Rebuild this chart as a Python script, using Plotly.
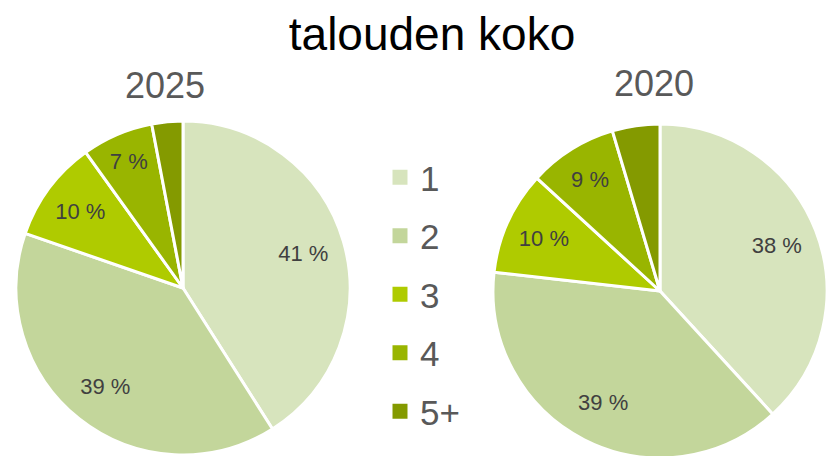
import plotly.graph_objects as go

categories = ["1", "2", "3", "4", "5+"]
values_2025 = [41.0, 39.3, 9.8, 6.9, 3.0]
values_2020 = [38.2, 38.6, 10.0, 8.6, 4.6]
years = ["2025", "2020"]
colors = ["#D7E4BD", "#C3D69B", "#AFCB00", "#99B500", "#849A00"]
title_text = "talouden koko"

FONT = "Liberation Sans, Arial, sans-serif"
W, H = 837, 456
OFF = 8  # page body margin


def slice_text(vals):
    return ["" if categories[i] == "5+" else f"{round(v)} %" for i, v in enumerate(vals)]


def px_domain(x0, x1, y0, y1):
    # page pixel box -> paper domain
    return dict(x=[(x0 - OFF) / W, (x1 - OFF) / W],
                y=[(H - (y1 - OFF)) / H, (H - (y0 - OFF)) / H])


fig = go.Figure()

domains = [px_domain(16, 350, 121, 455), px_domain(493, 827, 124, 458)]

for vals, dom in zip([values_2025, values_2020], domains):
    fig.add_trace(go.Pie(
        labels=categories, values=vals,
        textinfo="none",
        marker=dict(colors=colors, line=dict(color="white", width=3)),
        sort=False, direction="clockwise", rotation=0,
        domain=dom, showlegend=False, hoverinfo="label+percent",
    ))
    # text layer (ring) to position labels at ~3/4 radius
    fig.add_trace(go.Pie(
        labels=categories, values=vals, hole=0.5,
        text=slice_text(vals), textinfo="text", textposition="inside",
        insidetextorientation="horizontal",
        textfont=dict(family=FONT, size=22, color="#404040"),
        marker=dict(colors=["rgba(0,0,0,0)"] * len(vals), line=dict(width=0)),
        sort=False, direction="clockwise", rotation=0,
        domain=dom, showlegend=False, hoverinfo="skip",
    ))

# legend entries
for cat, col in zip(categories, colors):
    fig.add_trace(go.Scatter(
        x=[None], y=[None], mode="markers", name=cat,
        marker=dict(symbol="square", size=15, color=col),
        legendgroup=cat, showlegend=True,
    ))

fig.update_layout(
    width=W, height=H,
    margin=dict(l=0, r=0, t=0, b=0),
    paper_bgcolor="white", plot_bgcolor="white",
    title=dict(text=title_text, x=(432 - OFF) / W, xanchor="center",
               y=1 - (34 - OFF) / H, yanchor="middle",
               font=dict(family=FONT, size=46, color="black")),
    xaxis=dict(visible=False), yaxis=dict(visible=False),
    legend=dict(x=(380 - OFF) / W, xanchor="left", y=1 - (148 - OFF) / H, yanchor="top",
                font=dict(family=FONT, size=35, color="#595959"),
                traceorder="grouped", tracegroupgap=10, bgcolor="rgba(0,0,0,0)"),
    annotations=[
        dict(text=years[0], x=(165 - OFF) / W, y=1 - (85 - OFF) / H, xref="paper", yref="paper",
             showarrow=False, xanchor="center", yanchor="middle",
             font=dict(family=FONT, size=36, color="#595959")),
        dict(text=years[1], x=(654 - OFF) / W, y=1 - (83 - OFF) / H, xref="paper", yref="paper",
             showarrow=False, xanchor="center", yanchor="middle",
             font=dict(family=FONT, size=36, color="#595959")),
    ],
)

fig.write_html("out.html")
